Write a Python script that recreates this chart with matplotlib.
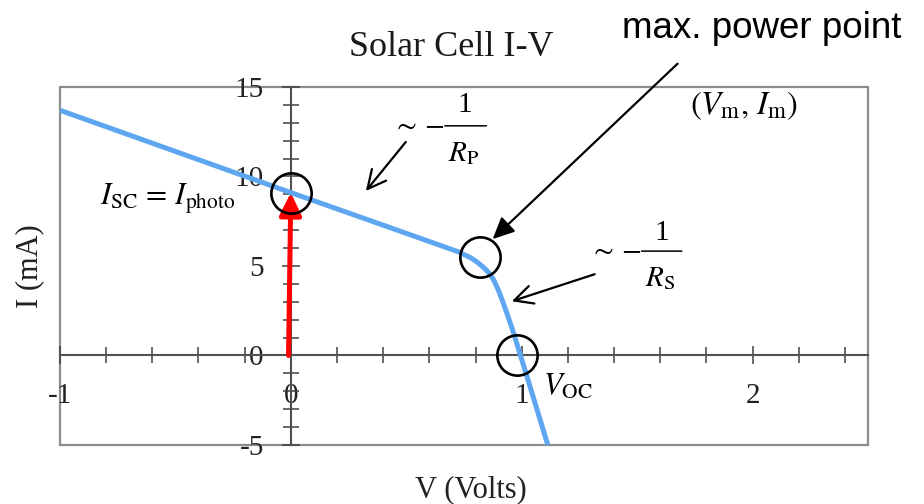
import matplotlib
matplotlib.use("Agg")
import matplotlib.pyplot as plt
from matplotlib.patches import Rectangle
from matplotlib.ticker import MultipleLocator

plt.rcParams['font.family'] = ['Liberation Serif', 'DejaVu Serif']
plt.rcParams['mathtext.fontset'] = 'stix'
plt.rcParams['axes.unicode_minus'] = False

# I-V curve
volts = [-1.0, -0.5, 0.0, 0.2, 0.4, 0.56, 0.73, 0.78, 0.80, 0.82, 0.84, 0.86,
         0.87, 0.88, 0.90, 0.92, 0.94, 0.96, 0.98, 1.00, 1.02, 1.04, 1.06,
         1.08, 1.10, 1.113]
current = [13.7, 11.4, 9.1, 8.19, 7.28, 6.55, 5.77, 5.45, 5.28, 5.08, 4.86, 4.58,
           4.4, 4.18, 3.62, 2.94, 2.2, 1.45, 0.62, -0.22, -1.05, -1.9, -2.75,
           -3.6, -4.45, -5.0]

# marked points
isc = 9.1
vm, im = 0.82, 5.5
voc = 0.98

x_ticks = [-1, 0, 1, 2]
y_ticks = [-5, 0, 5, 10, 15]

fig = plt.figure(figsize=(9.24, 5.04), dpi=100)
ax = fig.add_axes([0.0649, 0.1171, 0.8745, 0.7103])
ax.set_xlim(-1, 2.5)
ax.set_ylim(-5, 15)

# axis lines through the origin, box drawn separately
for side in ['top', 'right']:
    ax.spines[side].set_visible(False)
for side in ['left', 'bottom']:
    ax.spines[side].set_position(('data', 0))
    ax.spines[side].set_color('#505050')
    ax.spines[side].set_linewidth(1.5)
ax.add_patch(Rectangle((0, 0), 1, 1, transform=ax.transAxes, fill=False,
                       ec='#8c8c8c', lw=1.6, clip_on=False, zorder=1))

ax.set_xticks(x_ticks)
ax.set_yticks(y_ticks)
ax.xaxis.set_minor_locator(MultipleLocator(0.2))
ax.yaxis.set_minor_locator(MultipleLocator(1))
ax.tick_params(which='both', direction='inout', length=12, width=1.1,
               color='#404040', labelsize=21, labelcolor='#222222', pad=13)
ax.tick_params(which='major', length=13)

ax.plot(volts, current, color='#5ea6f0', lw=3.6, solid_capstyle='butt', zorder=3)

# red arrow for short-circuit current
ax.annotate('', xy=(0, isc), xytext=(-0.01, 0),
            arrowprops=dict(arrowstyle='-|>,head_length=0.45,head_width=0.22',
                            mutation_scale=30, color='red', lw=3.6,
                            shrinkA=0, shrinkB=0), zorder=4)

# circles around special points
ax.plot([0, vm, voc], [isc, im, 0], 'o', ms=29, mfc='none', mec='black',
        mew=1.9, zorder=5, clip_on=False)

# annotation arrows
ax.annotate('', xy=(0.874, 6.5), xytext=(1.675, 16.3), annotation_clip=False,
            arrowprops=dict(arrowstyle='-|>,head_length=0.6,head_width=0.28',
                            mutation_scale=22, color='black', lw=1.6,
                            shrinkA=0, shrinkB=0))
ax.annotate('', xy=(0.325, 9.19), xytext=(0.498, 11.93),
            arrowprops=dict(arrowstyle='->,head_length=0.6,head_width=0.3',
                            mutation_scale=22, color='black', lw=1.6,
                            shrinkA=0, shrinkB=0))
ax.annotate('', xy=(0.957, 3.03), xytext=(1.316, 4.54),
            arrowprops=dict(arrowstyle='->,head_length=0.6,head_width=0.3',
                            mutation_scale=22, color='black', lw=1.6,
                            shrinkA=0, shrinkB=0))


def slope_label(v, i, denom, bar_w, num_off, den_off):
    # "~ -1/R" written as a display-style fraction; (v, i) is the bar's left end
    ax.annotate('', xy=(v, i), xytext=(bar_w, 0), textcoords='offset points',
                arrowprops=dict(arrowstyle='-', lw=1.1, color='black',
                                shrinkA=0, shrinkB=0))
    ax.annotate(r'$\sim -$', xy=(v, i), xytext=(0, 0), textcoords='offset points',
                fontsize=21, ha='right', va='center')
    ax.annotate('1', xy=(v, i), xytext=num_off, textcoords='offset points',
                fontsize=21, ha='center', va='center')
    ax.annotate(denom, xy=(v, i), xytext=den_off, textcoords='offset points',
                fontsize=21, ha='center', va='center')


slope_label(0.667, 12.83, r'$R_{\rm P}$', 30, (14.5, 15), (13.5, -20))
slope_label(1.519, 5.83, r'$R_{\rm S}$', 29, (14.5, 13), (13.5, -19.5))

# texts
ax.text(-0.535, 8.74, r'$I_{\rm SC}\,=\,I_{\rm photo}$', fontsize=22,
        ha='center', va='center')
ax.text(1.965, 13.95, r'$\left(V_{\rm m},\, I_{\rm m}\right)$', fontsize=23.5,
        ha='center', va='center')
ax.text(1.199, -1.79, r'$V_{\rm OC}$', fontsize=22, ha='center', va='center')
ax.text(2.039, 18.26, 'max. power point', fontsize=26.5, family='Liberation Sans',
        ha='center', va='center', clip_on=False)

ax.set_title('Solar Cell I-V', fontsize=26, x=0.484, y=1.087, pad=0,
             color='#1a1a1a')
ax.set_xlabel('V (Volts)', fontsize=22, color='#222222')
ax.xaxis.set_label_coords(0.509, -0.084)
ax.set_ylabel('I (mA)', fontsize=22, color='#222222')
ax.yaxis.set_label_coords(-0.02, 0.5)

fig.savefig('out.png', dpi=100)
